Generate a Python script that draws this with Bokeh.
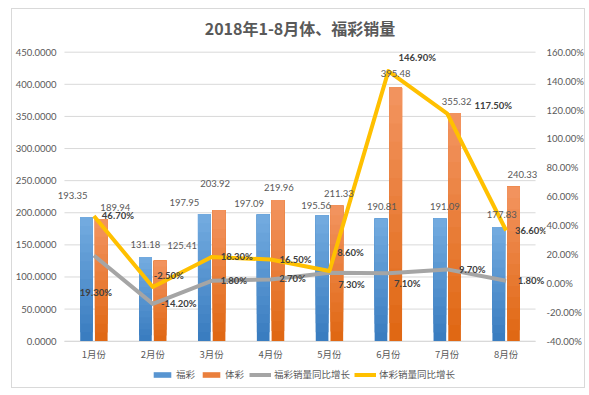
from bokeh.plotting import figure
from bokeh.models import (Range1d, LinearAxis, FixedTicker, PrintfTickFormatter,
                          CustomJSTickFormatter, Legend, LegendItem, Label, ColumnDataSource)
from bokeh.embed import file_html
from bokeh.resources import INLINE
from bokeh.core.properties import value

# ---------------- data ----------------
months = ["1月份", "2月份", "3月份", "4月份", "5月份", "6月份", "7月份", "8月份"]
fucai = [193.35, 131.18, 197.95, 197.09, 195.56, 190.81, 191.09, 177.83]
ticai = [189.94, 125.41, 203.92, 219.96, 211.33, 395.48, 355.32, 240.33]
fucai_growth = [19.30, -14.20, 1.80, 2.70, 7.30, 7.10, 9.70, 1.80]
ticai_growth = [46.70, -2.50, 18.30, 16.50, 8.60, 146.90, 117.50, 36.60]
left_ticks = [0, 50, 100, 150, 200, 250, 300, 350, 400, 450]
right_ticks = [-40, -20, 0, 20, 40, 60, 80, 100, 120, 140, 160]
title_text = "2018年1-8月体、福彩销量"
legend_names = ["福彩", "体彩", "福彩销量同比增长", "体彩销量同比增长"]

# ---------------- label placement (screen px, relative to the point) ----------------
fucai_lbl_dx = [-14, 0, -20, -14, -6, 1, 5, 3]
fucai_lbl_dy = [-22, -12, -12, -11, -10, -12, -12, -12]
ticai_lbl_dx = [14, 22, -4, 1, 2, 0, 2, 9]
ticai_lbl_dy = [-12, -15, -27, -12, -12, -14, -12, -12]
fg_lbl_dx = [2, 26, 22, 22, 22, 19, 25, 25]
fg_lbl_dy = [37, 0, 0, -1, 12, 10, 0, 0]
tg_lbl_dx = [24, 16, 25, 25, 21, 29, 46, 25]
tg_lbl_dy = [0, -12, 0, 0, -18, -14, -8, 0]

# ---------------- style / geometry ----------------
CJK = "Noto Sans CJK SC"
NUM = "Lato"
TXT = "#595959"
DARK = "#404040"
GRID = "#d9d9d9"
BLUE_TOP, BLUE_BOT = (0x72, 0xaa, 0xdf), (0x3a, 0x7d, 0xc0)
ORA_TOP, ORA_BOT = (0xf2, 0x93, 0x5e), (0xe0, 0x68, 0x14)
GRAY_LINE = "#a5a5a5"
GOLD_LINE = "#ffc000"

W, H = 574, 380          # canvas size (inside the chart border)
ML, MR, MT, MB = 43, 40, 0, 1
CAT_W = 59.25            # px per month
PLOT_L = 7               # px from frame left to the first month's left edge
PLOT_H = 289             # px from value 0 to 450
TOP_PAD = 42.7           # px from frame top to the 450 gridline
frame_w = W - ML - MR
frame_h = H - MT - MB
BOT_PAD = frame_h - TOP_PAD - PLOT_H

n = len(months)
xs = [i + 0.5 for i in range(n)]
off = 0.125
bw = 0.215

u_px = 450 / PLOT_H                        # left-axis units per px
pct_px = (right_ticks[-1] - right_ticks[0]) / PLOT_H
x0 = -PLOT_L / CAT_W
x1 = x0 + frame_w / CAT_W

p = figure(width=W, height=H, output_backend="svg", toolbar_location=None,
           x_range=Range1d(x0, x1),
           y_range=Range1d(-BOT_PAD * u_px, 450 + TOP_PAD * u_px),
           min_border_left=ML, min_border_right=MR, min_border_top=MT, min_border_bottom=MB)
p.extra_y_ranges = {"pct": Range1d(right_ticks[0] - BOT_PAD * pct_px,
                                   right_ticks[-1] + TOP_PAD * pct_px)}
p.outline_line_color = None
p.background_fill_color = "white"
p.border_fill_color = "white"
p.styles = {"margin": "8px 0px 0px 11px", "border": "1px solid #d9d9d9"}

# axes
p.yaxis.ticker = FixedTicker(ticks=left_ticks)
p.yaxis.formatter = PrintfTickFormatter(format="%.4f")
p.yaxis.axis_line_color = None
p.yaxis.major_tick_line_color = None
p.yaxis.minor_tick_line_color = None
p.yaxis.major_tick_out = 0
p.yaxis.major_label_text_font = NUM
p.yaxis.major_label_text_font_size = "9.5px"
p.yaxis.major_label_text_color = TXT
p.yaxis.major_label_standoff = 1

ra = LinearAxis(y_range_name="pct", ticker=FixedTicker(ticks=right_ticks),
                formatter=PrintfTickFormatter(format="%.2f%%"))
ra.axis_line_color = None
ra.major_tick_line_color = None
ra.minor_tick_line_color = None
ra.major_tick_out = 0
ra.major_label_text_font = NUM
ra.major_label_text_font_size = "9.5px"
ra.major_label_text_color = TXT
ra.major_label_standoff = 1
p.add_layout(ra, "right")

p.xaxis.ticker = FixedTicker(ticks=xs)
p.xaxis.formatter = CustomJSTickFormatter(args=dict(labels=months),
                                          code="return labels[Math.round(tick - 0.5)];")
p.xaxis.fixed_location = 0
p.xaxis.bounds = (0, n)
p.xaxis.axis_line_color = GRID
p.xaxis.major_tick_line_color = None
p.xaxis.minor_tick_line_color = None
p.xaxis.major_tick_out = 0
p.xaxis.major_tick_in = 0
p.xaxis.major_label_text_font = CJK
p.xaxis.major_label_text_font_size = "9.5px"
p.xaxis.major_label_text_color = TXT
p.xaxis.major_label_standoff = 6

p.xgrid.grid_line_color = None
p.ygrid.grid_line_color = None

# horizontal gridlines spanning only the plot area
p.segment(x0=[0] * len(left_ticks), x1=[n] * len(left_ticks),
          y0=left_ticks, y1=left_ticks, line_color=GRID, line_width=1)


def mix(a, b, t):
    return "#%02x%02x%02x" % tuple(int(round(a[k] + (b[k] - a[k]) * t)) for k in range(3))


# gradient bars: stacked overlapping slices, darker at the bottom
NSEG = 14
bar_legend = {}
for name, vals, xoff, ctop, cbot in (("fu", fucai, -off, BLUE_TOP, BLUE_BOT),
                                      ("ti", ticai, off, ORA_TOP, ORA_BOT)):
    for k in range(NSEG):
        col = mix(cbot, ctop, k / (NSEG - 1))
        src = ColumnDataSource(dict(x=[x + xoff for x in xs],
                                    bottom=[v * k / NSEG for v in vals],
                                    top=vals))
        r = p.vbar(x="x", bottom="bottom", top="top", width=bw, source=src,
                   fill_color=col, line_color=None)
        if k == NSEG // 2:
            bar_legend[name] = r

# lines on the right axis
src_fg = ColumnDataSource(dict(x=xs, y=fucai_growth))
src_tg = ColumnDataSource(dict(x=xs, y=ticai_growth))
l_fg = p.line("x", "y", source=src_fg, y_range_name="pct", line_color=GRAY_LINE,
              line_width=4, line_join="round")
l_tg = p.line("x", "y", source=src_tg, y_range_name="pct", line_color=GOLD_LINE,
              line_width=4, line_join="round")

# bar value labels
p.text(x=[x - off for x in xs], y=fucai, text=["%.2f" % v for v in fucai],
       x_offset=fucai_lbl_dx, y_offset=fucai_lbl_dy,
       text_font=value(NUM), text_font_size="9.5px", text_color=TXT,
       text_align="center", text_baseline="middle")
p.text(x=[x + off for x in xs], y=ticai, text=["%.2f" % v for v in ticai],
       x_offset=ticai_lbl_dx, y_offset=ticai_lbl_dy,
       text_font=value(NUM), text_font_size="9.5px", text_color=TXT,
       text_align="center", text_baseline="middle")

# growth labels
p.text(x=xs, y=fucai_growth, text=["%.2f%%" % v for v in fucai_growth],
       x_offset=fg_lbl_dx, y_offset=fg_lbl_dy, y_range_name="pct",
       text_font=value(NUM), text_font_size="9.5px", text_font_style="bold",
       text_color=DARK, text_align="center", text_baseline="middle")
p.text(x=xs, y=ticai_growth, text=["%.2f%%" % v for v in ticai_growth],
       x_offset=tg_lbl_dx, y_offset=tg_lbl_dy, y_range_name="pct",
       text_font=value(NUM), text_font_size="9.5px", text_font_style="bold",
       text_color=DARK, text_align="center", text_baseline="middle")

# title
p.add_layout(Label(x=n / 2, y=450 + (TOP_PAD - 18.3) * u_px,
                   text=title_text, text_font=CJK, text_font_size="16px",
                   text_font_style="bold", text_color=TXT,
                   text_align="center", text_baseline="middle"))

# legend (inside the extended frame, under the month labels)
legend = Legend(items=[
    LegendItem(label=legend_names[0], renderers=[bar_legend["fu"]]),
    LegendItem(label=legend_names[1], renderers=[bar_legend["ti"]]),
    LegendItem(label=legend_names[2], renderers=[l_fg]),
    LegendItem(label=legend_names[3], renderers=[l_tg]),
], orientation="horizontal", location=(94, 7),
    glyph_width=22, glyph_height=7, label_text_font=CJK, label_text_font_size="9.5px",
    label_text_color=TXT, label_standoff=3, spacing=4, padding=0, margin=0,
    background_fill_alpha=0, border_line_color=None, label_height=10)
p.add_layout(legend)

open("out.html", "w").write(file_html(p, INLINE))
